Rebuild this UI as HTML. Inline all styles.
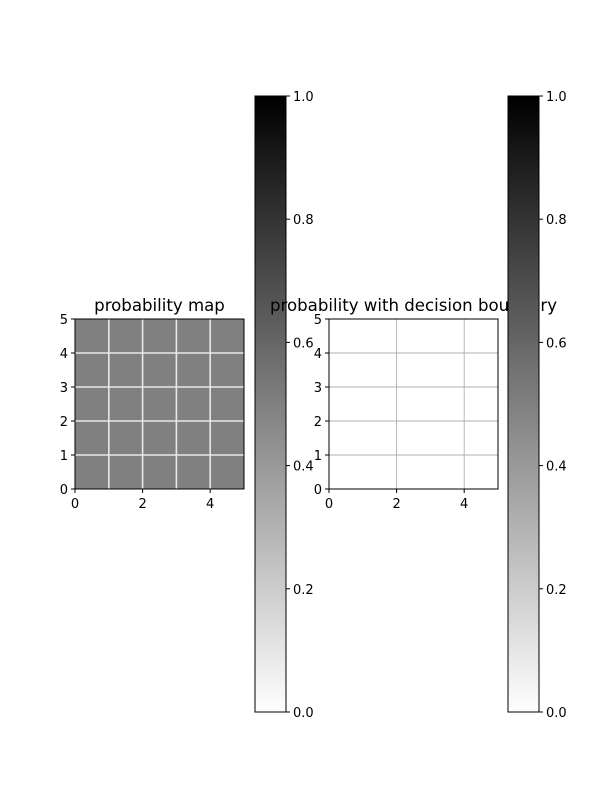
<!DOCTYPE html>
<html><head><meta charset="utf-8"><style>
html,body{margin:0;padding:0;background:#fff;}
svg text{font-family:"DejaVu Sans","Liberation Sans",sans-serif;fill:#000;}
</style></head><body>
<svg id="fig" width="600" height="800" xmlns="http://www.w3.org/2000/svg">
<defs>
<linearGradient id="cmap" x1="0" y1="1" x2="0" y2="0">
<stop offset="0" stop-color="#ffffff"/><stop offset="1" stop-color="#000000"/>
</linearGradient>
</defs>
</svg>
<script>
const probGrid = [
  [0.5,0.5,0.5,0.5,0.5],
  [0.5,0.5,0.5,0.5,0.5],
  [0.5,0.5,0.5,0.5,0.5],
  [0.5,0.5,0.5,0.5,0.5],
  [0.5,0.5,0.5,0.5,0.5]
];
const axisTicks = [0,2,4];
const yTicks = [0,1,2,3,4,5];
const cbarTicks = [0.0,0.2,0.4,0.6,0.8,1.0];
const titles = ["probability map","probability with decision boundary"];

const svg = document.getElementById('fig');
const NS = 'http://www.w3.org/2000/svg';
function mk(tag, attrs, parent){
  const e = document.createElementNS(NS, tag);
  for (const k in attrs) e.setAttribute(k, attrs[k]);
  (parent||svg).appendChild(e);
  return e;
}
function grayHex(v){
  const c = Math.round(255*(1-v));
  return 'rgb('+c+','+c+','+c+')';
}

function drawAxes(x0, idx, showMap){
  const y0 = 319, w = 169, h = 170;
  const sx = v => x0 + v/5*w;
  const sy = v => y0 + h - v/5*h;
  const g = mk('g', {});
  
  
  if (showMap){
    for (let r=0;r<5;r++) for (let c=0;c<5;c++){
      const cell = mk('rect', {x:sx(c), y:sy(r+1), width:sx(c+1)-sx(c), height:sy(r)-sy(r+1), fill:grayHex(probGrid[r][c])}, g);
      
      
    }
    for (let i=1;i<5;i++){
      mk('line',{x1:sx(i),x2:sx(i),y1:y0,y2:y0+h,stroke:'#e8e8e8','stroke-width':1.6},g);
      mk('line',{x1:x0,x2:x0+w,y1:sy(i),y2:sy(i),stroke:'#e8e8e8','stroke-width':1.6},g);
    }
  } else {
    axisTicks.forEach(t=>{ if(t>0&&t<5) mk('line',{x1:sx(t),x2:sx(t),y1:y0,y2:y0+h,stroke:'#b0b0b0','stroke-width':0.9},g); });
    yTicks.forEach(t=>{ if(t>0&&t<5) mk('line',{x1:x0,x2:x0+w,y1:sy(t),y2:sy(t),stroke:'#b0b0b0','stroke-width':0.9},g); });
  }
  mk('rect',{x:x0,y:y0,width:w,height:h,fill:'none',stroke:'#000','stroke-width':1},g);
  axisTicks.forEach(t=>{
    mk('line',{x1:sx(t),x2:sx(t),y1:y0+h,y2:y0+h+4,stroke:'#000'},g);
    const tx = mk('text',{x:sx(t),y:y0+h+19,'font-size':13,'text-anchor':'middle'},g); tx.textContent=t;
  });
  yTicks.forEach(t=>{
    mk('line',{x1:x0-4,x2:x0,y1:sy(t),y2:sy(t),stroke:'#000'},g);
    const tx = mk('text',{x:x0-7,y:sy(t)+5,'font-size':13,'text-anchor':'end'},g); tx.textContent=t;
  });
  const tt = mk('text',{x:x0+w/2,y:y0-8,'font-size':16.6,'text-anchor':'middle'},g);
  tt.textContent = titles[idx];
  
  
}

function drawCbar(x0){
  const y0 = 96, w = 31, h = 616;
  const g = mk('g',{});
  
  
  mk('rect',{x:x0,y:y0,width:w,height:h,fill:'url(#cmap)',stroke:'#000','stroke-width':1},g);
  cbarTicks.forEach(t=>{
    const y = y0 + h - t*h;
    mk('line',{x1:x0+w,x2:x0+w+4,y1:y,y2:y,stroke:'#000'},g);
    const tx = mk('text',{x:x0+w+7,y:y+5,'font-size':13},g); tx.textContent=t.toFixed(1);
  });
}

drawAxes(75, 0, true);
drawCbar(255);
drawAxes(329, 1, false);
drawCbar(508);
</script>
</body></html>
